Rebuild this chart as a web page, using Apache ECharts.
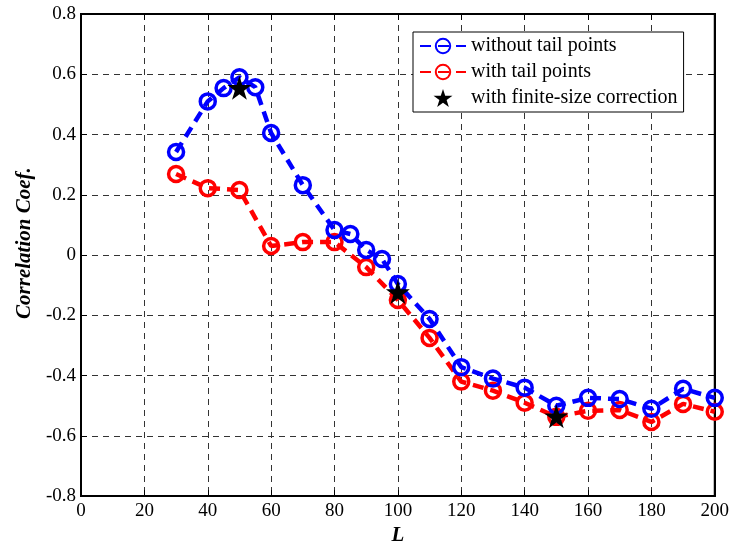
<!DOCTYPE html>
<html><head><meta charset="utf-8">
<script src="https://cdn.jsdelivr.net/npm/echarts@6/dist/echarts.min.js"></script>
<style>html,body{margin:0;padding:0;background:#fff}#c{width:732px;height:551px}</style>
</head><body><div id="c"></div>
<script>
const blueX = [30,40,45,50,55,60,70,80,85,90,95,100,110,120,130,140,150,160,170,180,190,200];
const blueY = [0.342,0.51,0.554,0.59,0.557,0.405,0.232,0.083,0.07,0.017,-0.013,-0.096,-0.212,-0.372,-0.41,-0.44,-0.50,-0.474,-0.478,-0.51,-0.444,-0.474];
const redX = [30,40,50,60,70,80,90,100,110,120,130,140,150,160,170,180,190,200];
const redY = [0.269,0.222,0.216,0.03,0.043,0.043,-0.04,-0.149,-0.275,-0.42,-0.45,-0.49,-0.537,-0.517,-0.514,-0.554,-0.494,-0.52];
const starX = [50,100,150];
const starY = [0.555,-0.123,-0.535];
const seriesNames = ['without tail points','with tail points','with finite-size correction'];
const xTicks = [0,200,20];
const yTicks = [-0.8,0.8,0.2];

const star = 'path://M50,0 L61.2,34.5 L97.6,34.5 L68.2,55.9 L79.4,90.5 L50,69.1 L20.6,90.5 L31.8,55.9 L2.4,34.5 L38.8,34.5 Z';
const font = 'Liberation Serif';
const zip = (a,b)=>a.map((v,i)=>[v,b[i]]);
const chart = echarts.init(document.getElementById('c'));
const gridLine = {show:true,lineStyle:{color:'#333',type:[6,5],width:1}};
const baseAxis = (mn,mx,iv)=>({type:'value',min:mn,max:mx,interval:iv});
chart.setOption({
  animation:false,
  backgroundColor:'#fff',
  grid:{left:81,right:16,top:14,bottom:54,show:true,borderColor:'#000',borderWidth:2,backgroundColor:'transparent'},
  legend:{
    left:413, top:32, orient:'vertical', backgroundColor:'#fff',
    borderColor:'#000', borderWidth:1, padding:[4,6,4,6], itemGap:6,
    itemWidth:46, itemHeight:18,
    textStyle:{fontFamily:font,fontSize:20,color:'#000'},
    data:seriesNames
  },
  xAxis:[Object.assign(baseAxis(xTicks[0],xTicks[1],xTicks[2]),{
    axisLine:{show:true,onZero:false,lineStyle:{color:'#000',width:2}},
    axisTick:{show:true,inside:true,length:6,lineStyle:{color:'#000'}},
    axisLabel:{fontFamily:font,fontSize:19,color:'#000',margin:5},
    splitLine:gridLine,
    name:'L', nameLocation:'middle', nameGap:28,
    nameTextStyle:{fontFamily:font,fontSize:21,fontWeight:'bold',fontStyle:'italic',color:'#000'}
  }),Object.assign(baseAxis(xTicks[0],xTicks[1],xTicks[2]),{
    position:'top',
    axisLine:{show:true,onZero:false,lineStyle:{color:'#000',width:2}},
    axisTick:{show:true,inside:true,length:6,lineStyle:{color:'#000'}},
    axisLabel:{show:false},splitLine:{show:false}
  })],
  yAxis:[Object.assign(baseAxis(yTicks[0],yTicks[1],yTicks[2]),{
    axisLine:{show:true,onZero:false,lineStyle:{color:'#000',width:2}},
    axisTick:{show:true,inside:true,length:6,lineStyle:{color:'#000'}},
    axisLabel:{fontFamily:font,fontSize:19,color:'#000',margin:5,
      formatter:v=>{const r=Math.round(v*10)/10; return r===0?'0':r.toFixed(1);}},
    splitLine:gridLine,
    name:'Correlation Coef.', nameLocation:'middle', nameGap:46,
    nameTextStyle:{fontFamily:font,fontSize:21,fontWeight:'bold',fontStyle:'italic',color:'#000',padding:[0,0,0,24]}
  }),Object.assign(baseAxis(yTicks[0],yTicks[1],yTicks[2]),{
    position:'right',
    axisLine:{show:true,onZero:false,lineStyle:{color:'#000',width:2}},
    axisTick:{show:true,inside:true,length:6,lineStyle:{color:'#000'}},
    axisLabel:{show:false},splitLine:{show:false}
  })],
  series:[
    {name:seriesNames[0],type:'line',data:zip(blueX,blueY),
     lineStyle:{color:'#0000ff',width:4.5,type:[11,7]},
     symbol:'circle',symbolSize:15,
     itemStyle:{color:'rgba(255,255,255,0)',borderColor:'#0000ff',borderWidth:3.5},
     z:3},
    {name:seriesNames[1],type:'line',data:zip(redX,redY),
     lineStyle:{color:'#ff0000',width:4.5,type:[11,7]},
     symbol:'circle',symbolSize:15,
     itemStyle:{color:'rgba(255,255,255,0)',borderColor:'#ff0000',borderWidth:3.5},
     z:2},
    {name:seriesNames[2],type:'scatter',data:zip(starX,starY),
     symbol:star,symbolSize:24,
     itemStyle:{color:'#000',opacity:1},z:5}
  ]
});
</script></body></html>
